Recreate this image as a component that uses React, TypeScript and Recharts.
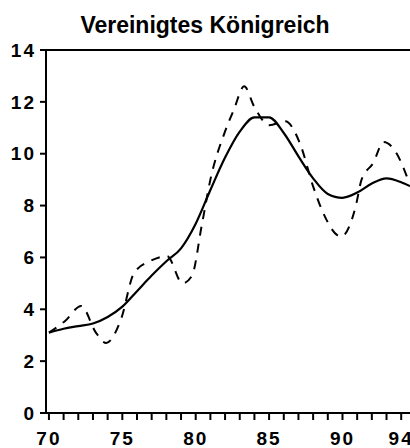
import React from 'react';
import { LineChart, Line, XAxis, YAxis, ReferenceLine } from 'recharts';

// trend (solid) line
const trendYears = [70, 71, 72, 73, 74, 75, 76, 77, 78, 79, 80, 81, 82, 83, 84, 85, 86, 87, 88, 89, 90, 91, 92, 93, 94, 94.6];
const trendValues = [3.1, 3.25, 3.35, 3.45, 3.7, 4.1, 4.7, 5.3, 5.85, 6.35, 7.3, 8.6, 9.85, 10.85, 11.4, 11.4, 10.8, 9.9, 9.05, 8.45, 8.3, 8.5, 8.85, 9.05, 8.9, 8.75];

// actual (dashed) line
const actualYears = [70, 71.1, 72.2, 73.2, 73.9, 74.9, 75.8, 76.9, 78.05, 79.1, 79.75, 80.4, 81, 82, 82.6, 83.3, 84, 85, 86.1, 87.1, 88, 88.7, 89.9, 90.9, 91.3, 92.1, 92.8, 93.7, 94.4];
const actualValues = [3.1, 3.55, 4.13, 3.1, 2.7, 3.6, 5.4, 5.86, 6.05, 5.0, 5.3, 7.2, 9.0, 10.86, 11.7, 12.6, 11.8, 11.1, 11.25, 10.4, 8.74, 7.7, 6.8, 7.97, 9.0, 9.65, 10.45, 10.0, 9.1];

const xTicks = [70, 71, 72, 73, 74, 75, 76, 77, 78, 79, 80, 81, 82, 83, 84, 85, 86, 87, 88, 89, 90, 91, 92, 93, 94];
const xLabels = [70, 75, 80, 85, 90, 94];
const yTicks = [0, 2, 4, 6, 8, 10, 12, 14];

const trend = trendYears.map((year, i) => ({ year, value: trendValues[i] }));
const actual = actualYears.map((year, i) => ({ year, value: actualValues[i] }));

const font = '"Liberation Sans", Arial, sans-serif';
const tickStyle = { fill: '#000', fontSize: 19, fontWeight: 'bold' as const, fontFamily: font, letterSpacing: 2 };

export default function App() {
  return (
    <div style={{ position: 'absolute', left: 0, top: 0, width: 410, height: 448, background: '#fff' }}>
      <div
        style={{
          position: 'absolute',
          left: 0,
          top: 12,
          width: 410,
          textAlign: 'center',
          fontFamily: font,
          fontWeight: 'bold',
          fontSize: 23,
          lineHeight: '26px',
        }}
      >
        Vereinigtes Königreich
      </div>
      <LineChart width={410} height={448} margin={{ top: 50, right: 0, bottom: 0, left: 0 }}>
        <XAxis
          dataKey="year"
          type="number"
          domain={[69.8, 94.6]}
          ticks={xTicks}
          interval={0}
          allowDataOverflow
          tickFormatter={(v: number) => (xLabels.includes(v) ? String(v) : '')}
          height={35}
          tickSize={7}
          tickMargin={12}
          stroke="#000"
          strokeWidth={2}
          tick={tickStyle}
        />
        <YAxis
          type="number"
          domain={[0, 14]}
          ticks={yTicks}
          interval={0}
          width={46}
          tickSize={6}
          tickMargin={4}
          stroke="#000"
          strokeWidth={2}
          tick={tickStyle}
        />
        <ReferenceLine y={14} stroke="#000" strokeWidth={2} />
        <Line
          data={trend}
          dataKey="value"
          type="monotone"
          stroke="#000"
          strokeWidth={2.2}
          dot={false}
          isAnimationActive={false}
        />
        <Line
          data={actual}
          dataKey="value"
          type="monotone"
          stroke="#000"
          strokeWidth={2}
          strokeDasharray="9 8"
          dot={false}
          isAnimationActive={false}
        />
      </LineChart>
    </div>
  );
}
